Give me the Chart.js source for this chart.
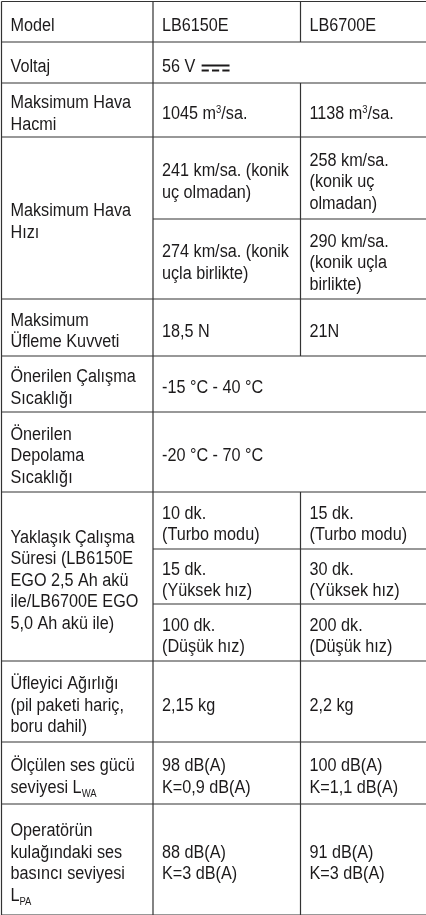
<!DOCTYPE html>
<html>
<head>
<meta charset="utf-8">
<script src="https://cdn.jsdelivr.net/npm/chart.js@4.4.0/dist/chart.umd.min.js"></script>
<style>
  html, body { margin: 0; padding: 0; background: #fff; }
  #wrap { width: 426px; height: 915px; }
</style>
</head>
<body>
<div id="wrap"><canvas id="specTable" width="426" height="915"></canvas></div>
<script>
// Satır başlıkları (ilk sütun)
const rowLabels = [
    ["Model"],
    ["Voltaj"],
    ["Maksimum Hava", "Hacmi"],
    ["Maksimum Hava", "Hızı"],
    ["Maksimum", "Üfleme Kuvveti"],
    ["Önerilen Çalışma", "Sıcaklığı"],
    ["Önerilen", "Depolama", "Sıcaklığı"],
    ["Yaklaşık Çalışma", "Süresi (LB6150E", "EGO 2,5 Ah akü", "ile/LB6700E EGO", "5,0 Ah akü ile)"],
    ["Üfleyici Ağırlığı", "(pil paketi hariç,", "boru dahil)"],
    ["Ölçülen ses gücü", "seviyesi L_{WA}"],
    ["Operatörün", "kulağındaki ses", "basıncı seviyesi", "L_{PA}"]
];

// LB6150E sütunu: her satır alt hücrelerden, her alt hücre satırlardan oluşur
const lb6150eValues = [
    [["LB6150E"]],
    [["56 V {dc}"]],
    [["1045 m^{3}/sa."]],
    [["241 km/sa. (konik", "uç olmadan)"], ["274 km/sa. (konik", "uçla birlikte)"]],
    [["18,5 N"]],
    [["-15 °C - 40 °C"]],
    [["-20 °C - 70 °C"]],
    [["10 dk.", "(Turbo modu)"], ["15 dk.", "(Yüksek hız)"], ["100 dk.", "(Düşük hız)"]],
    [["2,15 kg"]],
    [["98 dB(A)", "K=0,9 dB(A)"]],
    [["88 dB(A)", "K=3 dB(A)"]]
];

// LB6700E sütunu (null = iki sütuna yayılan ortak hücre)
const lb6700eValues = [
    [["LB6700E"]],
    null,
    [["1138 m^{3}/sa."]],
    [["258 km/sa.", "(konik uç", "olmadan)"], ["290 km/sa.", "(konik uçla", "birlikte)"]],
    [["21N"]],
    null,
    null,
    [["15 dk.", "(Turbo modu)"], ["30 dk.", "(Yüksek hız)"], ["200 dk.", "(Düşük hız)"]],
    [["2,2 kg"]],
    [["100 dB(A)", "K=1,1 dB(A)"]],
    [["91 dB(A)", "K=3 dB(A)"]]
];

// Tablo çizgileri (ölçek birimi)
const colEdges = [1.5, 153, 300.5, 426];
const rowEdges = [1.5, 42, 83, 137, 299, 356, 412, 492, 661, 742, 804, 915];
const subEdges = { 3: [219], 7: [549, 604] };

const FONT = '"Liberation Sans", Arial, sans-serif';
const FONT_SIZE = 18;
const LINE_H = 21.5;
const SCALE_X = 0.9;
const PAD_X = 9;
const TEXT_COLOR = "#1c1a1b";
const LINE_COLOR = "#333333";

function drawRich(ctx, text, x, y) {
    ctx.save();
    ctx.translate(x, y);
    ctx.scale(SCALE_X, 1);
    ctx.fillStyle = TEXT_COLOR;
    ctx.textBaseline = "alphabetic";
    let cursor = 0;
    text.split(/(\^\{[^}]*\}|_\{[^}]*\}|\{dc\})/).forEach(part => {
        if (!part) return;
        if (part === "{dc}") {
            // doğru akım sembolü
            ctx.fillRect(cursor + 2, -7, 31, 2);
            for (let i = 0; i < 3; i++) ctx.fillRect(cursor + 2 + i * 11.5, -2, 8, 2);
            cursor += 33;
        } else if (part[0] === "^") {
            ctx.font = `10.5px ${FONT}`;
            ctx.fillText(part.slice(2, -1), cursor, -6.5);
            cursor += ctx.measureText(part.slice(2, -1)).width;
        } else if (part[0] === "_") {
            ctx.font = `10.5px ${FONT}`;
            ctx.fillText(part.slice(2, -1), cursor, 4);
            cursor += ctx.measureText(part.slice(2, -1)).width;
        } else {
            ctx.font = `${FONT_SIZE}px ${FONT}`;
            ctx.fillText(part, cursor, 0);
            cursor += ctx.measureText(part).width;
        }
    });
    ctx.restore();
}

function drawCell(ctx, lines, x, top, bottom) {
    const mid = (top + bottom) / 2 + 9;
    const n = lines.length;
    lines.forEach((line, i) => drawRich(ctx, line, x, mid + (i - (n - 1) / 2) * LINE_H));
}

const tablePlugin = {
    id: "specTable",
    afterDraw(chart) {
        const ctx = chart.ctx;
        const sx = v => chart.scales.x.getPixelForValue(v);
        const sy = v => chart.scales.y.getPixelForValue(v);

        ctx.save();
        ctx.strokeStyle = LINE_COLOR;
        ctx.lineWidth = 1.2;
        ctx.beginPath();
        // yatay çizgiler
        rowEdges.forEach(r => {
            ctx.moveTo(sx(colEdges[0]), sy(r));
            ctx.lineTo(sx(colEdges[3]), sy(r));
        });
        Object.values(subEdges).flat().forEach(r => {
            ctx.moveTo(sx(colEdges[1]), sy(r));
            ctx.lineTo(sx(colEdges[3]), sy(r));
        });
        // dikey çizgiler
        [colEdges[0], colEdges[1]].forEach(c => {
            ctx.moveTo(sx(c), sy(rowEdges[0]));
            ctx.lineTo(sx(c), sy(rowEdges[rowEdges.length - 1]));
        });
        lb6700eValues.forEach((v, i) => {
            if (v === null) return;
            ctx.moveTo(sx(colEdges[2]), sy(rowEdges[i]));
            ctx.lineTo(sx(colEdges[2]), sy(rowEdges[i + 1]));
        });
        ctx.stroke();

        // hücre metinleri
        rowLabels.forEach((lines, i) => {
            const top = sy(rowEdges[i]), bottom = sy(rowEdges[i + 1]);
            drawCell(ctx, lines, sx(colEdges[0]) + PAD_X, top, bottom);
            [lb6150eValues[i], lb6700eValues[i]].forEach((cells, c) => {
                if (!cells) return;
                const edges = [rowEdges[i], ...(subEdges[i] || []), rowEdges[i + 1]];
                cells.forEach((cell, k) => {
                    drawCell(ctx, cell, sx(colEdges[c + 1]) + PAD_X, sy(edges[k]), sy(edges[k + 1]));
                });
            });
        });
        ctx.restore();
    }
};

new Chart(document.getElementById("specTable"), {
    type: "scatter",
    data: { datasets: [{ data: [] }] },
    options: {
        responsive: false,
        animation: false,
        devicePixelRatio: 1,
        layout: { padding: 0 },
        plugins: { legend: { display: false }, tooltip: { enabled: false } },
        scales: {
            x: { type: "linear", min: 0, max: 426, display: false },
            y: { type: "linear", min: 0, max: 915, reverse: true, display: false }
        }
    },
    plugins: [tablePlugin]
});
</script>
</body>
</html>
